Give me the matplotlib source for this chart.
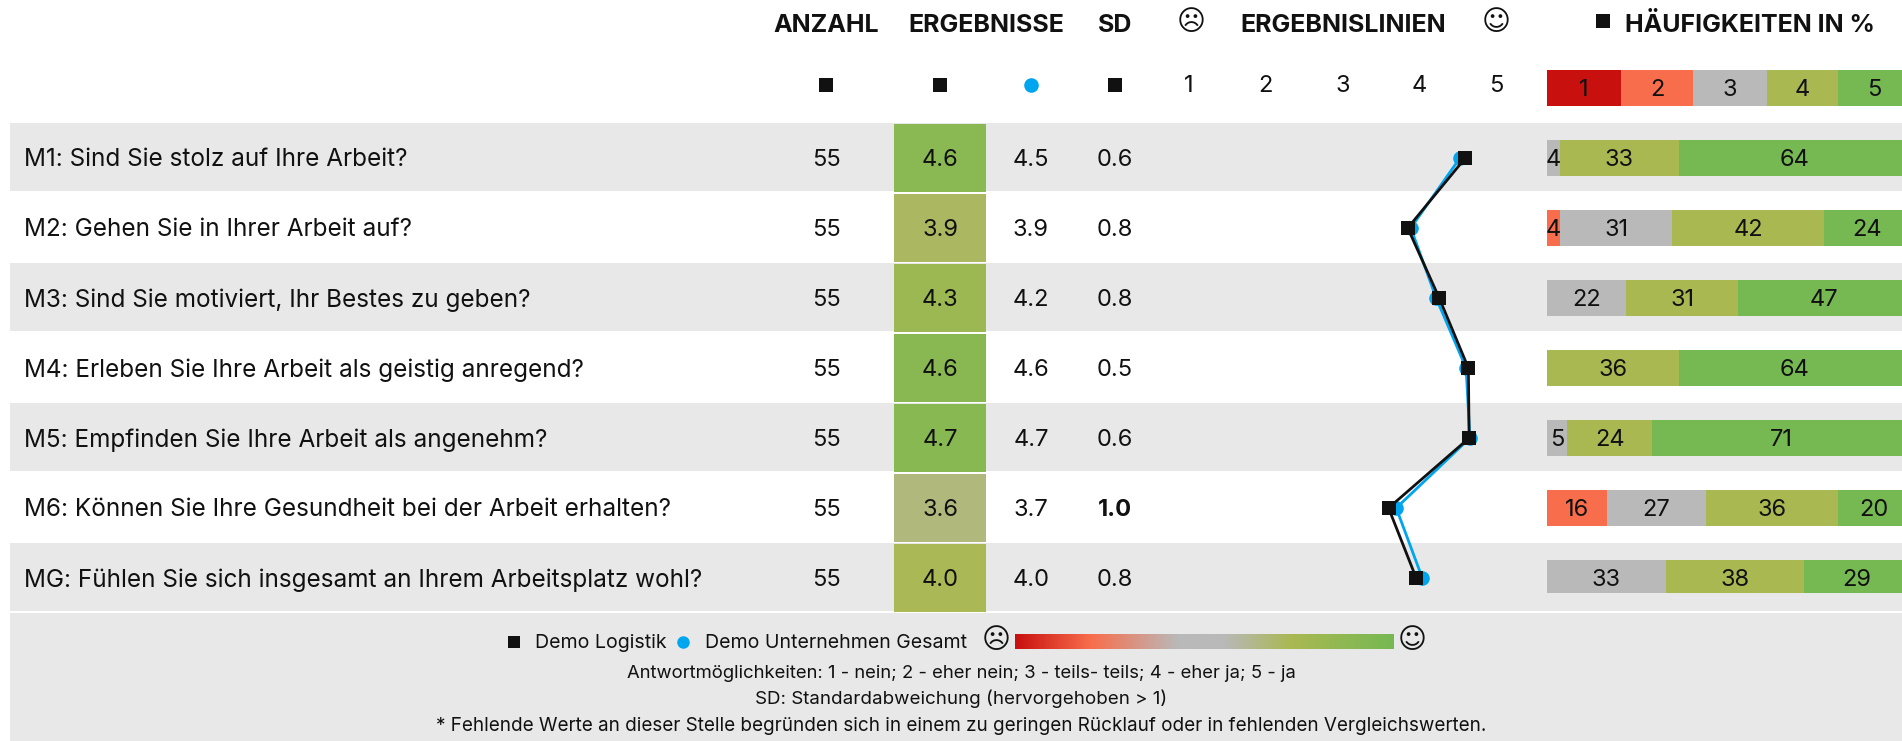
# -*- coding: utf-8 -*-
import numpy as np
import matplotlib
matplotlib.use('Agg')
import matplotlib.pyplot as plt
from matplotlib.colors import LinearSegmentedColormap

plt.rcParams['font.family'] = ['Inter', 'DejaVu Sans']

#%% data
questions = ['M1: Sind Sie stolz auf Ihre Arbeit?',
             'M2: Gehen Sie in Ihrer Arbeit auf?',
             'M3: Sind Sie motiviert, Ihr Bestes zu geben?',
             'M4: Erleben Sie Ihre Arbeit als geistig anregend?',
             'M5: Empfinden Sie Ihre Arbeit als angenehm?',
             'M6: Können Sie Ihre Gesundheit bei der Arbeit erhalten?',
             'MG: Fühlen Sie sich insgesamt an Ihrem Arbeitsplatz wohl?']
anzahl = [55, 55, 55, 55, 55, 55, 55]
logistik = [4.60, 3.85, 4.26, 4.64, 4.65, 3.60, 3.96]
gesamt = [4.53, 3.89, 4.22, 4.61, 4.66, 3.70, 4.04]
sd = [0.6, 0.8, 0.8, 0.5, 0.6, 1.0, 0.8]

freq1 = [0, 0, 0, 0, 0, 0, 0]
freq2 = [0, 3.6, 0, 0, 0, 16.4, 0]
freq3 = [3.6, 30.9, 21.8, 0, 5.45, 27.3, 32.7]
freq4 = [32.7, 41.8, 30.9, 36.4, 23.6, 36.4, 38.2]
freq5 = [63.6, 23.6, 47.3, 63.6, 70.9, 20.0, 29.1]
scale_widths = [20.4, 19.8, 20.4, 19.6, 19.8]
scale_labels = [1, 2, 3, 4, 5]
colors = ['#C8100F', '#F86E4C', '#B9B9B9', '#AAB852', '#76B852']
# colour stops of the legend gradient
grad_stops = [(0, '#C8100F'), (0.2, '#F86E4C'), (0.43, '#B9B9B9'), (0.55, '#B9B9B9'),
              (0.73, '#AAB852'), (1, '#76B852')]

legend_lines = ['Antwortmöglichkeiten: 1 - nein; 2 - eher nein; 3 - teils- teils; 4 - eher ja; 5 - ja',
                'SD: Standardabweichung (hervorgehoben > 1)',
                '* Fehlende Werte an dieser Stelle begründen sich in einem zu geringen Rücklauf oder in fehlenden Vergleichswerten.']
legend_sizes = [13.3, 13.5, 13.6]

#%% layout, pixels of the 1902x741 picture
W, H = 1902, 741
BLACK = '#111111'
BLUE = '#00A5EF'
GREY = '#E8E8E8'
row_y = 158 + 70*np.arange(7)
cmap = LinearSegmentedColormap.from_list('res', colors)
grad = LinearSegmentedColormap.from_list('grad', grad_stops)


def sub_axes(x0, x1, y0, y1):
    a = fig.add_axes([x0/W, 1 - y1/H, (x1 - x0)/W, (y1 - y0)/H])
    a.patch.set_alpha(0)
    a.axis('off')
    return a


fig = plt.figure(figsize=(W/100, H/100), dpi=100)
ax = fig.add_axes([0, 0, 1, 1])
ax.set_xlim(0, W)
ax.set_ylim(H, 0)
ax.axis('off')

# stripes and legend panel
for y0, y1 in [(123, 191), (263, 331), (403, 471), (543, 611)]:
    ax.fill_between([10, W], y0, y1, color=GREY, lw=0)
ax.fill_between([10, W], 613, H, color=GREY, lw=0)

# headers
head = dict(fontsize=18, fontweight='bold', color=BLACK, ha='center', va='center')
ax.text(826, 25, 'ANZAHL', **head)
ax.text(986, 25, 'ERGEBNISSE', **head)
ax.text(1115, 25, 'SD', **head)
ax.text(1343, 25, 'ERGEBNISLINIEN', **head)
ax.text(1750, 25, 'HÄUFIGKEITEN IN %', **head)
face = dict(family='DejaVu Sans', fontsize=20, color=BLACK, ha='center', va='center')
ax.text(1191, 22, '\u2639', **face)
ax.text(1496, 22, '\u263A', **face)

# marker row under the headers
ax.plot([826, 940, 1115, 1603], [85, 85, 85, 21], 's', color=BLACK, ms=9.5, mew=0)
ax.plot([1031], [85], 'o', color=BLUE, ms=10.5, mew=0)

# table
cell = dict(fontsize=17, color=BLACK, va='center', ha='center')
for i, y in enumerate(row_y):
    ax.text(24, y + 2, questions[i], fontsize=17.5, color=BLACK, va='center', ha='left')
    ax.text(826, y + 2, str(anzahl[i]), **cell)
    ax.fill_between([894, 986], y - 34, y + 34, color=cmap((logistik[i] - 1)/4), lw=0)
    ax.text(940, y + 2, '%.1f' % logistik[i], **cell)
    ax.text(1031, y + 2, '%.1f' % gesamt[i], **cell)
    ax.text(1115, y + 2, '%.1f' % sd[i], fontweight='bold' if sd[i] >= 1 else 'normal', **cell)

# result lines: x axis is the answer scale, y axis the row number
ax_l = sub_axes(1189, 1496, row_y[0], row_y[-1])
ax_l.set_xlim(1, 5)
ax_l.set_ylim(6, 0)
rows = np.arange(7)
ax_l.plot(gesamt, rows, '-o', color=BLUE, lw=2, ms=10.5, mew=0, clip_on=False)
ax_l.plot(logistik, rows, '-s', color=BLACK, lw=2, ms=10, mew=0, clip_on=False)
for v in scale_labels:
    ax_l.text(v, -72/70, str(v), fontsize=17, color=BLACK, ha='center', va='center', clip_on=False)

# frequency bars, 100 % runs past the right edge of the picture
ax_b = sub_axes(1547, 1910, 70, 593)
ax_b.set_xlim(0, 100)
ax_b.set_ylim((593 - 158)/70, (70 - 158)/70)

left = 0
for w, lab, c in zip(scale_widths, scale_labels, colors):
    ax_b.barh(-70/70, w, left=left, height=36/70, color=c, lw=0)
    ax_b.text(left + w/2, -68/70, str(lab), fontsize=17, color=BLACK, ha='center', va='center')
    left += w

freq = np.array([freq1, freq2, freq3, freq4, freq5])
for k in range(5):
    starts = freq[:k].sum(axis=0)
    ax_b.barh(rows, freq[k], left=starts, height=36/70, color=colors[k], lw=0)
    for i in rows:
        if freq[k][i] > 0:
            ax_b.text(starts[i] + freq[k][i]/2, i + 2/70, '%.0f' % freq[k][i], fontsize=17,
                      color=BLACK, ha='center', va='center')

# legend
ax.plot([514], [642], 's', color=BLACK, ms=9, mew=0)
ax.plot([683], [642], 'o', color=BLUE, ms=9, mew=0)
ax.text(535, 643, 'Demo Logistik', fontsize=14.1, color=BLACK, va='center', ha='left')
ax.text(705, 643, 'Demo Unternehmen Gesamt', fontsize=14.1, color=BLACK, va='center', ha='left')
ax.text(996, 640, '\u2639', **face)
ax.text(1412, 640, '\u263A', **face)
ax.imshow(np.linspace(0, 1, 256).reshape(1, -1), cmap=grad, extent=[1015, 1394, 649, 634],
          aspect='auto', zorder=3)
ax.set_xlim(0, W)
ax.set_ylim(H, 0)
for y, line, fs in zip([673, 699, 726], legend_lines, legend_sizes):
    ax.text(961, y, line, fontsize=fs, color=BLACK, ha='center', va='center')

fig.savefig('out.png', dpi=100)
